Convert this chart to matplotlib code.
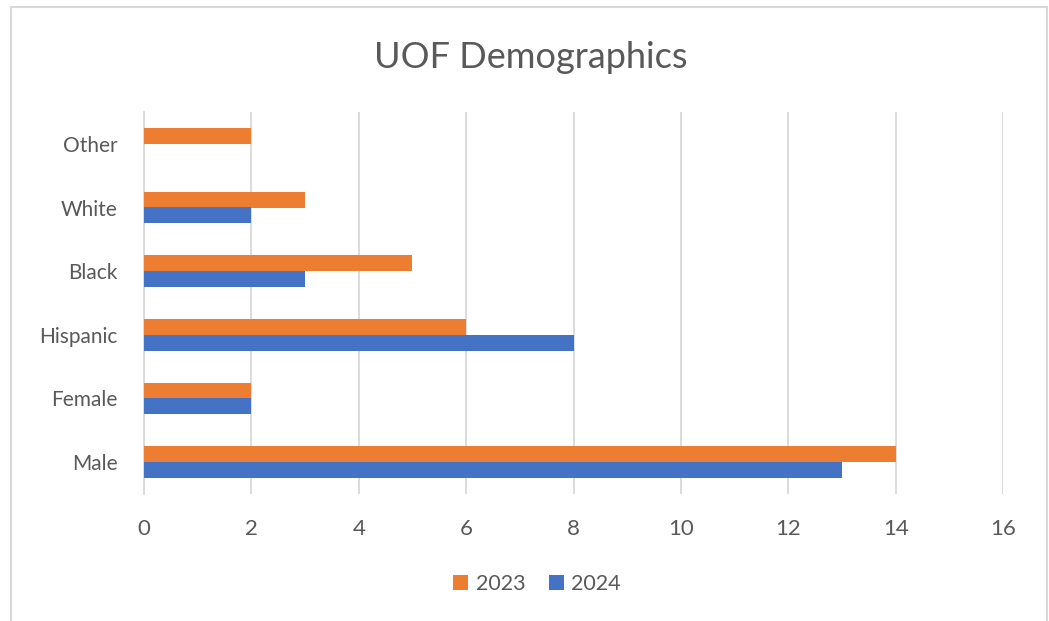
import numpy as np
import matplotlib.pyplot as plt
from matplotlib.patches import Rectangle

categories = ['Male', 'Female', 'Hispanic', 'Black', 'White', 'Other']
vals_2023 = [14, 2, 6, 5, 3, 2]
vals_2024 = [13, 2, 8, 3, 2, 0]

plt.rcParams['font.family'] = ['Lato', 'DejaVu Sans']
txt = '#595959'

fig = plt.figure(figsize=(10.49, 6.21), dpi=100)
ax = fig.add_axes([144/1049, 1 - 494/621, (1003 - 144)/1049, (494 - 112)/621])

# chart border
fig.patches.append(Rectangle((11/1049, -0.05), (1047 - 11)/1049, 1.05 - 7/621,
                             transform=fig.transFigure, fill=False,
                             edgecolor='#D9D9D9', lw=1.5))

y = np.arange(len(categories))
h = 0.25
ax.barh(y + h/2, vals_2023, height=h, color='#ED7D31', label='2023', zorder=3)
ax.barh(y - h/2, vals_2024, height=h, color='#4472C4', label='2024', zorder=3)

ax.set_xlim(0, 16)
ax.set_ylim(-0.5, 5.5)
ax.set_xticks(range(0, 17, 2))
ax.set_yticks(y, categories)
ax.grid(axis='x', color='#D9D9D9', lw=1.3, zorder=0)
for s in ['top', 'right', 'bottom']:
    ax.spines[s].set_visible(False)
ax.spines['left'].set_color('#D9D9D9')
ax.spines['left'].set_linewidth(1.3)
ax.tick_params(length=0, labelcolor=txt)
ax.tick_params(axis='x', pad=18, labelsize=16)
ax.tick_params(axis='y', pad=19, labelsize=15)

fig.text(531/1049, 1 - 57/621, 'UOF Demographics', ha='center', va='center',
         fontsize=26, color=txt)

handles, labels = ax.get_legend_handles_labels()
fig.legend(handles, labels, loc='center', bbox_to_anchor=(537/1049, 1 - 584/621),
           ncol=2, frameon=False, fontsize=15.5, labelcolor=txt,
           handlelength=0.7, handleheight=0.7, handletextpad=0.35, columnspacing=1.1)

fig.savefig('out.png', dpi=100)
